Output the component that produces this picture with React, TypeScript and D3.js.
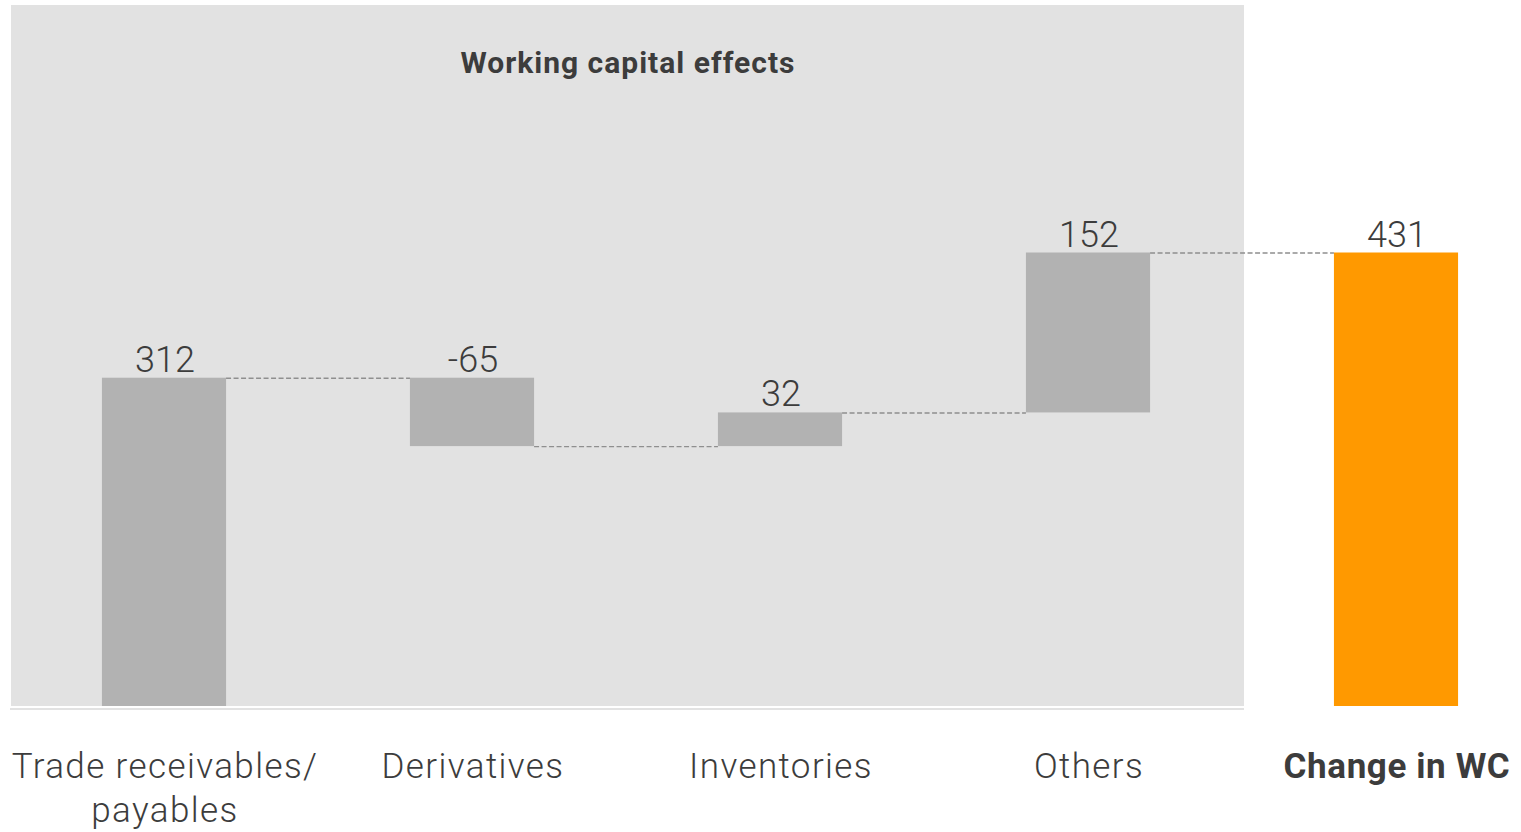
import React from "react";
import * as d3 from "d3";

const categories = ["Trade receivables/\npayables", "Derivatives", "Inventories", "Others", "Change in WC"];
const deltas = [312, -65, 32, 152];
const totalValue = 431;
const valueLabels = ["312", "-65", "32", "152", "431"];
const title = "Working capital effects";

const W = 1521;
const H = 832;
const FONT = "Roboto, 'Noto Sans', sans-serif";
const TEXT = "#3c3c3c";

export default function App() {
  const x = d3.scaleBand<string>().domain(categories).range([10, 1550]).paddingInner(0.597).paddingOuter(0.2985);
  const y = d3.scaleLinear().domain([0, totalValue]).range([706, 252.5]);
  const bw = x.bandwidth();
  const step = x.step();

  let run = 0;
  const segs = deltas.map((d, i) => {
    const start = run;
    run += d;
    return { cat: categories[i], start, end: run, label: valueLabels[i], total: false };
  });
  segs.push({ cat: categories[4], start: 0, end: totalValue, label: valueLabels[4], total: true });

  const panelLeft = 11;
  const panelRight = (x(categories[3]) as number) + bw + step * x.paddingInner() / 2 + 2;

  return (
    <div style={{ position: "fixed", left: 0, top: 0, width: W, height: H, background: "#fff" }}>
      <svg width={W} height={H} style={{ display: "block" }}>
        <rect x={panelLeft} y={5} width={panelRight - panelLeft} height={y(0) - 5} fill="#e2e2e2" />
        <rect x={panelLeft - 1} y={y(0) + 2} width={panelRight - panelLeft + 1} height={2} fill="#e2e2e2" />
        <text x={(panelLeft + panelRight) / 2 + 0.5} y={73} textAnchor="middle" fontFamily={FONT} fontWeight={700} fontSize={30} letterSpacing={1} fill={TEXT}>
          {title}
        </text>
        {segs.map((s, i) => {
          const x0 = x(s.cat) as number;
          const top = y(Math.max(s.start, s.end));
          const bot = y(Math.min(s.start, s.end));
          return (
            <g key={i}>
              <rect x={x0} y={top} width={bw} height={bot - top} fill={s.total ? "#ff9900" : "#b2b2b2"} />
              <text x={x0 + bw / 2 + 1} y={top - 6} textAnchor="middle" fontFamily={FONT} fontWeight={300} fontSize={36} fill={TEXT}>
                {s.label}
              </text>
            </g>
          );
        })}
        {segs.slice(0, -1).map((s, i) => {
          const next = segs[i + 1];
          const x1 = (x(s.cat) as number) + bw;
          const x2 = x(next.cat) as number;
          const yy = y(s.end) + 0.5;
          return <line key={"c" + i} x1={x1} x2={x2} y1={yy} y2={yy} stroke="#8f8f8f" strokeWidth={1.4} strokeDasharray="5 2.5" />;
        })}
        {categories.map((c, i) => {
          const lines = c.split("\n");
          const cx = (x(c) as number) + bw / 2 + 1;
          const bold = i === categories.length - 1;
          return (
            <text key={"l" + i} x={cx} y={778} textAnchor="middle" fontFamily={FONT} fontWeight={bold ? 700 : 300} fontSize={35} letterSpacing={bold ? 0.6 : 1.4} fill={TEXT}>
              {lines.map((ln, j) => (
                <tspan key={j} x={cx} dy={j === 0 ? 0 : 44}>{ln}</tspan>
              ))}
            </text>
          );
        })}
      </svg>
    </div>
  );
}
